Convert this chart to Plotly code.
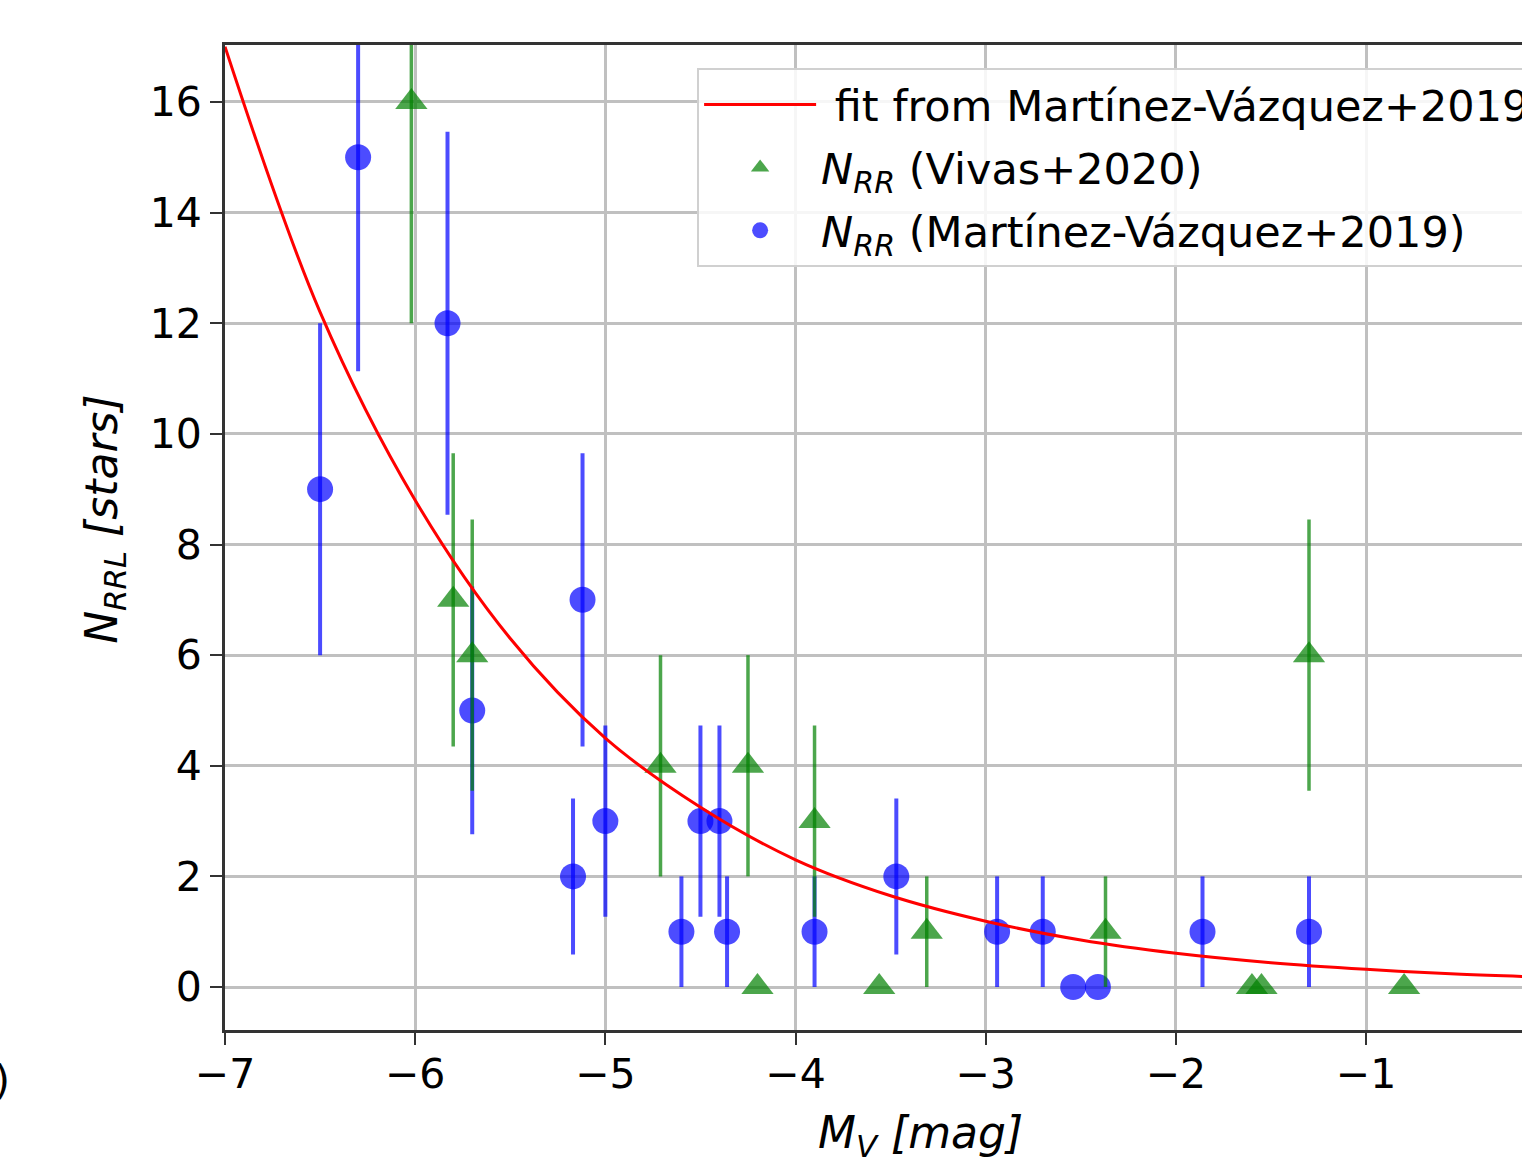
import plotly.graph_objects as go

# Martínez-Vázquez+2019 (blue circles)
mv_x = [-6.5, -6.3, -5.83, -5.7, -5.17, -5.12, -5.0, -4.6, -4.5, -4.4, -4.36, -3.9, -3.47, -2.94, -2.70, -2.54, -2.41, -1.86, -1.30]
mv_y = [9, 15, 12, 5, 2, 7, 3, 1, 3, 3, 1, 1, 2, 1, 1, 0, 0, 1, 1]
mv_err = [3.0, 3.87, 3.46, 2.24, 1.41, 2.65, 1.73, 1.0, 1.73, 1.73, 1.0, 1.0, 1.41, 1.0, 1.0, 0, 0, 1.0, 1.0]

# Vivas+2020 (green triangles)
vi_x = [-6.02, -5.8, -5.7, -4.71, -4.25, -4.2, -3.9, -3.56, -3.31, -2.37, -1.60, -1.55, -1.30, -0.80]
vi_y = [16, 7, 6, 4, 4, 0, 3, 0, 1, 1, 0, 0, 6, 0]
vi_err = [4.0, 2.65, 2.45, 2.0, 2.0, 0, 1.73, 0, 1.0, 1.0, 0, 0, 2.45, 0]

# fit curve
fit_x = [-7.0, -6.5, -6.0, -5.5, -5.0, -4.5, -4.0, -3.5, -3.0, -2.5, -2.0, -1.5, -1.0, -0.5, -0.17]
fit_y = [17.0, 12.2, 8.8, 6.3, 4.5, 3.25, 2.3, 1.65, 1.19, 0.85, 0.61, 0.44, 0.32, 0.23, 0.19]

x_ticks = [-7, -6, -5, -4, -3, -2, -1]
y_ticks = [0, 2, 4, 6, 8, 10, 12, 14, 16]

FONT = "DejaVu Sans"
fig = go.Figure()

fig.add_trace(go.Scatter(
    x=mv_x, y=mv_y, mode="markers",
    name="<i>N</i><sub><i>RR</i></sub> (Martínez-Vázquez+2019)",
    marker=dict(symbol="circle", size=26, color="rgba(0,0,255,0.7)", line=dict(width=0)),
    error_y=dict(type="data", array=mv_err, visible=True, color="rgba(0,0,255,0.7)", thickness=4, width=0),
    legendrank=3, legendgroup="c",
))
fig.add_trace(go.Scatter(
    x=vi_x, y=vi_y, mode="markers",
    name="<i>N</i><sub><i>RR</i></sub> (Vivas+2020)",
    marker=dict(symbol="triangle-up", size=28, color="rgba(0,128,0,0.7)", line=dict(width=0)),
    error_y=dict(type="data", array=vi_err, visible=True, color="rgba(0,128,0,0.7)", thickness=3.5, width=0),
    legendrank=2, legendgroup="b",
))
fig.add_trace(go.Scatter(
    x=fit_x, y=fit_y, mode="lines", line_shape="spline",
    name=" fit from Martínez-Vázquez+2019",
    line=dict(color="red", width=3),
    legendrank=1, legendgroup="a",
))

fig.update_layout(
    width=1522, height=1164,
    margin=dict(l=225, r=0, t=45, b=134, autoexpand=False),
    paper_bgcolor="white", plot_bgcolor="white",
    font=dict(family=FONT, size=41, color="black"),
    legend=dict(
        x=0.364, y=0.9766, xanchor="left", yanchor="top",
        bgcolor="rgba(255,255,255,0.85)", bordercolor="#d0d0d0", borderwidth=2,
        font=dict(family=FONT, size=43), itemwidth=112,
        traceorder="grouped", tracegroupgap=4,
    ),
    xaxis=dict(
        range=[-7, -0.18], tickvals=x_ticks, ticks="outside", ticklen=12, tickwidth=2, tickcolor="#333",
        showline=True, linecolor="#333", linewidth=3, mirror=True, ticklabelstandoff=-6,
        showgrid=True, gridcolor="#c0c0c0", gridwidth=2.5, zeroline=False,
    ),
    yaxis=dict(
        range=[-0.777, 17.03], tickvals=y_ticks, ticks="outside", ticklen=12, tickwidth=2, tickcolor="#333",
        showline=True, linecolor="#333", linewidth=3, mirror=False,
        showgrid=True, gridcolor="#c0c0c0", gridwidth=2.5, zeroline=False,
    ),
    annotations=[
        dict(text="<i>M</i><sub><i>V</i></sub> <i>[mag]</i>", xref="paper", yref="paper",
             x=0.536, y=-0.1066, xanchor="center", yanchor="middle", showarrow=False,
             font=dict(size=44, family=FONT)),
        dict(text="<i>N</i><sub><i>RRL</i></sub> <i>[stars]</i>", xref="paper", yref="paper",
             x=-0.0925, y=0.518, xanchor="center", yanchor="middle", showarrow=False, textangle=-90,
             font=dict(size=44, family=FONT)),
        dict(text=")", xref="paper", yref="paper", x=-0.164, y=-0.0508,
             xanchor="right", yanchor="middle", showarrow=False, font=dict(size=41, family=FONT)),
    ],
)

fig.write_html(
    "out.html",
    config={"displayModeBar": False},
    post_script="document.body.style.margin='0';document.body.style.overflow='hidden';",
)
